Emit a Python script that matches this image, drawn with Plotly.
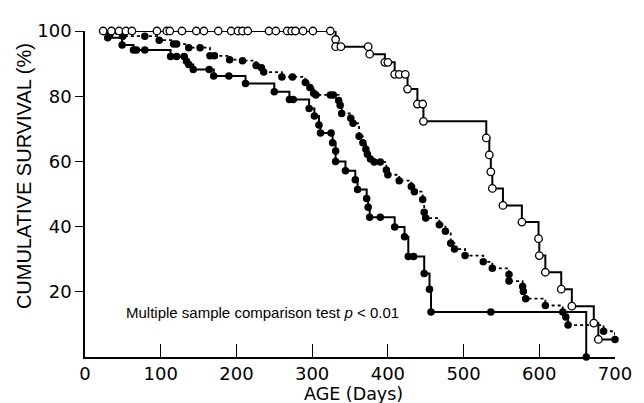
import plotly.graph_objects as go

# ---- Data ----
# Open circles, solid line (highest survival)
open_days = [24, 35, 45, 54, 62, 95, 108, 112, 128, 147, 157, 176, 193, 202, 208, 215,
             243, 252, 267, 273, 278, 288, 301, 324,
             331, 331, 338, 374, 376, 396, 400, 409, 415, 423, 426, 439, 446, 447,
             530, 534, 536, 538, 552, 577, 599, 600, 608, 629, 643, 672, 678]
open_surv = [100, 100, 100, 100, 100, 100, 100, 100, 100, 100, 100, 100, 100, 100, 100, 100,
             100, 100, 100, 100, 100, 100, 100, 100,
             97.4, 95.2, 95.2, 95.2, 92.9, 90.4, 90.4, 86.7, 86.7, 86.7, 82.2, 77.6, 77.6, 72.3,
             67.2, 62.0, 56.8, 51.7, 46.5, 41.4, 36.3, 31.1, 26.0, 20.8, 15.6, 10.4, 5.4]
open_last_day = 700

# Filled circles, dotted line (middle)
dot_days = [33, 50, 79, 98, 117, 121, 137, 152, 165, 171,
            191, 208, 226, 233, 236, 260, 274, 291, 297, 302,
            305, 324, 328, 335, 337, 339, 351, 354, 362, 367,
            371, 373, 377, 382, 390, 398, 400, 415, 431, 435,
            446, 448, 450, 468, 476, 483, 488, 502, 526, 538,
            560, 560, 578, 579, 582, 608, 631, 635, 638, 685,
            700]
dot_surv = [99.1, 98.4, 98.4, 97.2, 96.0, 96.0, 94.9, 94.9, 92.4, 92.4,
            91.2, 90.9, 89.4, 88.7, 87.4, 85.9, 85.9, 84.2, 82.7, 80.9,
            80.4, 80.4, 80.4, 78.7, 77.2, 74.7, 73.2, 71.7, 67.7, 65.7,
            63.7, 62.2, 60.7, 59.8, 59.8, 57.4, 55.9, 54.1, 52.3, 50.7,
            48.3, 44.4, 42.6, 40.6, 38.6, 34.9, 33.1, 31.1, 29.2, 27.2,
            25.3, 23.3, 21.6, 20.1, 17.9, 15.8, 13.8, 12.3, 9.8, 7.9,
            5.4]

# Filled circles, solid line (lowest survival)
solid_days = [30, 49, 64, 68, 79, 113, 121, 131, 134, 137,
              143, 164, 170, 190, 212, 250, 270, 275, 296, 303,
              309, 311, 325, 327, 331, 331, 344, 357, 360, 372,
              374, 376, 390, 409, 422, 427, 434, 448, 455, 457,
              536, 662]
solid_surv = [97.9, 95.7, 94.2, 94.2, 94.2, 92.2, 92.2, 92.2, 90.7, 89.7,
              88.2, 88.2, 86.2, 86.2, 83.9, 81.4, 79.0, 79.0, 76.2, 73.9,
              71.2, 68.7, 68.7, 65.7, 63.2, 60.0, 57.1, 54.4, 51.4, 48.6,
              45.9, 42.9, 42.9, 39.9, 36.9, 30.8, 30.8, 25.6, 20.8, 13.8,
              13.8, 0]

start_day = 20
start_surv = 100

x_ticks = [0, 100, 200, 300, 400, 500, 600, 700]
y_ticks = [20, 40, 60, 80, 100]
y_tick_labels = ["20", "40", "60", "80", "100"]

# ---- Figure ----
fig = go.Figure()
BLACK = "black"

# Lines (step, survival style)
fig.add_trace(go.Scatter(
    x=[start_day] + open_days + [open_last_day],
    y=[start_surv] + open_surv + [open_surv[-1]],
    mode="lines", line=dict(color=BLACK, width=2, shape="hv"),
    hoverinfo="skip", cliponaxis=False))
fig.add_trace(go.Scatter(
    x=[start_day] + dot_days,
    y=[start_surv] + dot_surv,
    mode="lines", line=dict(color=BLACK, width=1.8, shape="hv", dash="dot"),
    hoverinfo="skip", cliponaxis=False))
fig.add_trace(go.Scatter(
    x=[start_day] + solid_days,
    y=[start_surv] + solid_surv,
    mode="lines", line=dict(color=BLACK, width=2, shape="hv"),
    hoverinfo="skip", cliponaxis=False))

# Markers
fig.add_trace(go.Scatter(
    x=dot_days, y=dot_surv, mode="markers",
    marker=dict(symbol="circle", size=7.5, color=BLACK, line=dict(color=BLACK, width=0)),
    cliponaxis=False))
fig.add_trace(go.Scatter(
    x=solid_days, y=solid_surv, mode="markers",
    marker=dict(symbol="circle", size=7.5, color=BLACK, line=dict(color=BLACK, width=0)),
    cliponaxis=False))
fig.add_trace(go.Scatter(
    x=open_days, y=open_surv, mode="markers",
    marker=dict(symbol="circle", size=7.5, color="white", line=dict(color=BLACK, width=1.3)),
    cliponaxis=False))

tick_font = dict(family="DejaVu Sans", size=18, color=BLACK)

fig.update_xaxes(
    range=[0, 700], tickvals=x_ticks, ticktext=[str(v) for v in x_ticks],
    ticks="inside", ticklen=13, tickwidth=1.3, tickcolor=BLACK,
    showline=True, linewidth=1.5, linecolor=BLACK,
    showgrid=False, zeroline=False, tickfont=tick_font)
fig.update_yaxes(
    range=[0, 100], tickvals=y_ticks, ticktext=y_tick_labels,
    ticks="outside", ticklen=8, tickwidth=1.3, tickcolor=BLACK,
    showline=True, linewidth=1.5, linecolor=BLACK,
    showgrid=False, zeroline=False, tickfont=tick_font)

# page body has an 8px margin, so the figure is 8px smaller and margins shifted
fig.update_layout(
    width=636, height=395,
    margin=dict(l=77, r=21, t=16, b=46),
    plot_bgcolor="white", paper_bgcolor="white",
    showlegend=False,
    annotations=[
        dict(text="Multiple sample comparison test <i>p</i> < 0.01",
             xref="paper", yref="paper", x=0.074, y=0.136,
             xanchor="left", yanchor="middle", showarrow=False,
             font=dict(family="Liberation Sans", size=15, color=BLACK)),
        dict(text="AGE (Days)", xref="paper", yref="paper", x=0.506, y=-0.078,
             xanchor="center", yanchor="top", showarrow=False,
             font=dict(family="DejaVu Sans", size=17.5, color=BLACK)),
        dict(text="CUMULATIVE SURVIVAL (%)", xref="paper", yref="paper",
             x=-0.115, y=0.555, textangle=-90,
             xanchor="center", yanchor="middle", showarrow=False,
             font=dict(family="Liberation Sans", size=20, color=BLACK)),
    ],
)

fig.write_html("out.html")
